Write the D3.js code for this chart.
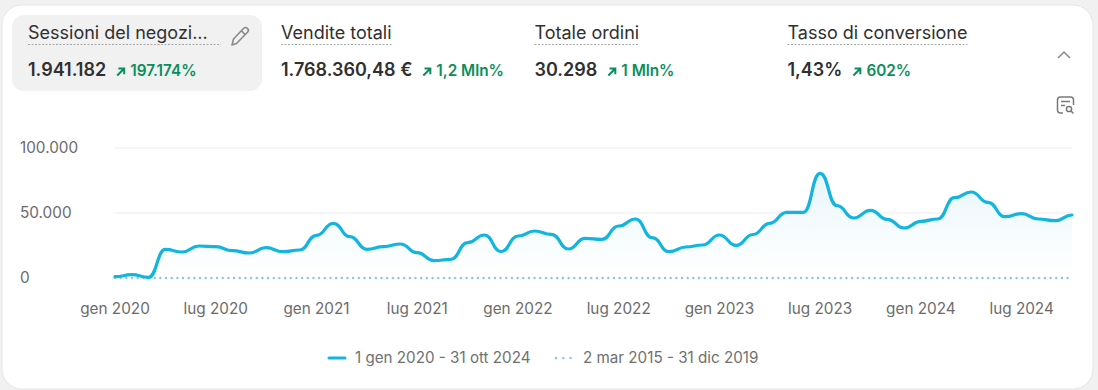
<!DOCTYPE html>
<html lang="it">
<head>
  <meta charset="UTF-8">
  <title>Sessioni del negozio</title>
  <script src="https://d3js.org/d3.v7.min.js"></script>
  <style>
    body {
      margin: 0;
      background: #f1f1f1;
      overflow: hidden;
      font-family: Inter, sans-serif;
    }
    svg { display: block; }
    .tick line, .domain { display: none; }
    .axis text {
      font-family: Inter, sans-serif;
      font-size: 15.3px;
      fill: #6b6b6b;
    }
  </style>
</head>
<body>
  <svg width="1098" height="390"></svg>

  <script>
  // Monthly sessions, jan 2020 - oct 2024.
  const sessions = [
    1000, 2540, 540, 22080, 20000, 24600, 24080, 21000, 19230, 23300, 20230, 21540,
    32850, 42080, 31770, 22080, 24080, 26150, 19460, 13310, 14380, 27150, 33080, 20230,
    32300, 36150, 33620, 22300, 30540, 29770, 40000, 45380, 31000, 20230, 23850, 25380,
    33080, 25150, 33460, 42080, 50540, 50540, 80540, 55620, 46150, 52080, 45150, 38460,
    43620, 45380, 61770, 66150, 58230, 47150, 49460, 45380, 44080, 48460
  ];
  // Previous period, practically flat on zero.
  const previous = [
    0, 0, 0, 0, 0, 0, 0, 0, 0, 0, 0, 0, 0, 0, 0, 0, 0, 0, 0, 0, 0, 0, 0, 0, 0, 0, 0, 0, 0,
    0, 0, 0, 0, 0, 0, 0, 0, 0, 0, 0, 0, 0, 0, 0, 0, 0, 0, 0, 0, 0, 0, 0, 0, 0, 0, 0, 0, 0
  ];
  const xTickIndex = [0, 6, 12, 18, 24, 30, 36, 42, 48, 54];
  const xTickLabels = ["gen 2020", "lug 2020", "gen 2021", "lug 2021", "gen 2022",
                       "lug 2022", "gen 2023", "lug 2023", "gen 2024", "lug 2024"];
  const yTicks = [0, 50000, 100000];
  const yTickLabels = ["0", "50.000", "100.000"];

  // Metric tabs across the top of the card.
  const metricTitles = ["Sessioni del negozi...", "Vendite totali", "Totale ordini", "Tasso di conversione"];
  const metricValues = ["1.941.182", "1.768.360,48 €", "30.298", "1,43%"];
  const metricDeltas = ["197.174%", "1,2 Mln%", "1 Mln%", "602%"];
  const legendLabels = ["1 gen 2020 - 31 ott 2024", "2 mar 2015 - 31 dic 2019"];

  const lineColor = "#12b5df", dotColor = "#86c8de", green = "#0a8f5c";
  const svg = d3.select("svg");

  // Card and selected tab.
  svg.append("rect").attr("x", 2).attr("y", 5).attr("width", 1091).attr("height", 384)
     .attr("rx", 20).attr("fill", "#fff").attr("stroke", "#e6e6e6");
  svg.append("rect").attr("x", 12).attr("y", 15).attr("width", 250).attr("height", 76)
     .attr("rx", 12).attr("fill", "#f1f1f1");

  // Tabs.
  const tabX = [28, 281, 534.5, 787.5];
  const tabs = svg.selectAll("g.tab").data(metricTitles).enter().append("g")
     .attr("class", "tab")
     .attr("transform", (d, i) => `translate(${tabX[i]},0)`);

  tabs.append("text").attr("class", "title").attr("y", 39)
      .attr("font-size", 18).attr("font-weight", 430).attr("fill", "#303030")
      .text(d => d);

  tabs.each(function(d, i) {
    const g = d3.select(this);
    const w = g.select("text.title").node().getComputedTextLength();
    g.append("line").attr("x1", 0).attr("x2", i === 0 ? 193 : w)
     .attr("y1", 44.5).attr("y2", 44.5)
     .attr("stroke", "#a8a8a8").attr("stroke-width", 1.2).attr("stroke-dasharray", "2 1.5");
    const val = g.append("text").attr("y", 75.5).attr("font-size", 18).attr("font-weight", 600)
     .attr("fill", "#303030").text(metricValues[i]);
    const vw = val.node().getComputedTextLength();
    const ax = vw + 11;
    // small up-right arrow
    g.append("path").attr("d", `M${ax} 75.500L${ax + 6} 69.500M${ax + 1.2} 68.500H${ax + 7}V74.300`)
     .attr("fill", "none").attr("stroke", green).attr("stroke-width", 2);
    g.append("text").attr("x", ax + 13).attr("y", 76).attr("font-size", 15.3)
     .attr("font-weight", 600).attr("fill", green).text(metricDeltas[i]);
  });

  // Pencil, chevron and report icons.
  svg.append("path")
     .attr("d", "M232 45l1.500-6 10-10.500a2.700 2.700 0 0 1 4 3.800l-11 11.200z M241.500 31l4 3.800")
     .attr("fill", "none").attr("stroke", "#8a8a8a").attr("stroke-width", 1.6).attr("stroke-linejoin", "round");
  svg.append("path").attr("d", "M1058 58l6-6 6 6")
     .attr("fill", "none").attr("stroke", "#8a8a8a").attr("stroke-width", 1.5);
  svg.append("path")
     .attr("d", "M1063 113h-2.500a3 3 0 0 1-3-3v-10a3 3 0 0 1 3-3h10a3 3 0 0 1 3 3v5 M1061 101.500h9 M1061 105.500h4")
     .attr("fill", "none").attr("stroke", "#7a7a7a").attr("stroke-width", 1.5);
  svg.append("circle").attr("cx", 1069).attr("cy", 109).attr("r", 2.600)
     .attr("fill", "none").attr("stroke", "#7a7a7a").attr("stroke-width", 1.5);
  svg.append("path").attr("d", "M1071 111l2.500 2.500").attr("stroke", "#7a7a7a").attr("stroke-width", 1.5);

  // Scales.
  const x = d3.scaleLinear().domain([0, sessions.length - 1]).range([115, 1072]);
  const y = d3.scaleLinear().domain([0, 100000]).range([278, 148]);

  // Gridlines.
  svg.append("g").selectAll("line").data(yTicks.slice(1)).enter().append("line")
     .attr("x1", x.range()[0]).attr("x2", x.range()[1])
     .attr("y1", d => y(d)).attr("y2", d => y(d))
     .attr("stroke", "#ececec");

  // Axes.
  const yAxis = svg.append("g").attr("class", "axis")
     .attr("transform", "translate(20,-0.500)")
     .call(d3.axisRight(y).tickValues(yTicks).tickSize(0).tickPadding(0)
       .tickFormat((d, i) => yTickLabels[i]));
  yAxis.selectAll("text").attr("x", 0).attr("dy", "0.32em");

  svg.append("g").attr("class", "axis")
     .attr("transform", "translate(-0.500,303)")
     .call(d3.axisBottom(x).tickValues(xTickIndex).tickSize(0).tickPadding(0)
       .tickFormat((d, i) => xTickLabels[i]));

  // Soft area under the main line.
  const grad = svg.append("defs").append("linearGradient").attr("id", "areaFill")
     .attr("gradientUnits", "userSpaceOnUse")
     .attr("x1", 0).attr("x2", 0).attr("y1", y(80000)).attr("y2", y(0));
  grad.append("stop").attr("offset", 0).attr("stop-color", "#e9f6fb");
  grad.append("stop").attr("offset", 0.5).attr("stop-color", "#f5fbfd");
  grad.append("stop").attr("offset", 1).attr("stop-color", "#ffffff");

  const curve = d3.curveBumpX;
  svg.append("path").datum(sessions)
     .attr("fill", "url(#areaFill)")
     .attr("d", d3.area().x((d, i) => x(i)).y0(y(0)).y1(d => y(d)).curve(curve));

  // Previous period, dotted.
  svg.append("path").datum(previous)
     .attr("fill", "none").attr("stroke", dotColor).attr("stroke-width", 2.4)
     .attr("stroke-linecap", "round").attr("stroke-dasharray", "0 5.67")
     .attr("d", d3.line().x((d, i) => x(i)).y(d => y(d)));

  // Current period.
  svg.append("path").datum(sessions)
     .attr("fill", "none").attr("stroke", lineColor).attr("stroke-width", 3.2)
     .attr("stroke-linejoin", "round").attr("stroke-linecap", "round")
     .attr("d", d3.line().x((d, i) => x(i)).y(d => y(d)).curve(curve));

  // Legend.
  svg.append("line").attr("x1", 329).attr("x2", 345).attr("y1", 358).attr("y2", 358)
     .attr("stroke", lineColor).attr("stroke-width", 3).attr("stroke-linecap", "round");
  svg.append("line").attr("x1", 556).attr("x2", 572).attr("y1", 358).attr("y2", 358)
     .attr("stroke", dotColor).attr("stroke-width", 2.4).attr("stroke-linecap", "round")
     .attr("stroke-dasharray", "0 7.3");
  svg.selectAll("text.legend").data(legendLabels).enter().append("text")
     .attr("class", "legend")
     .attr("x", (d, i) => i === 0 ? 355 : 583).attr("y", 363)
     .attr("font-size", 15.2).attr("fill", "#707070")
     .text(d => d);
  </script>
</body>
</html>
